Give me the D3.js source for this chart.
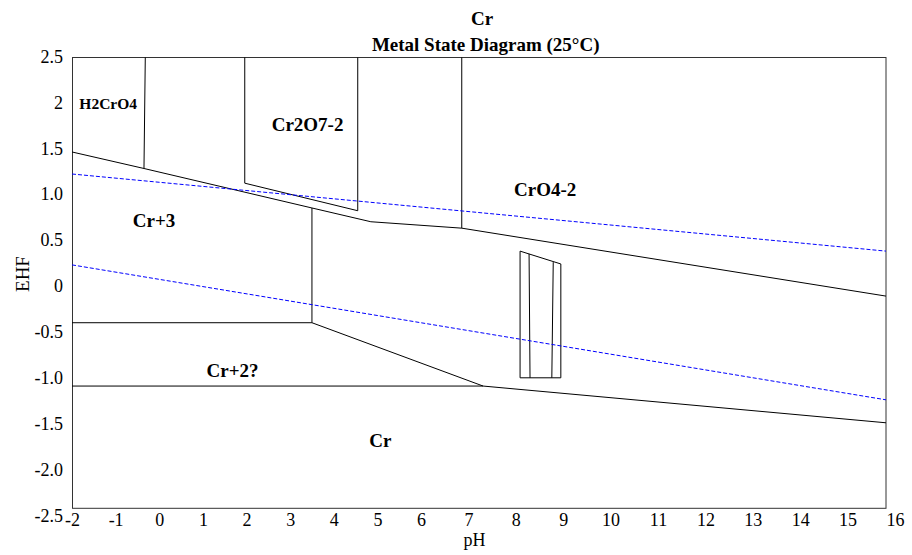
<!DOCTYPE html>
<html>
<head>
<meta charset="utf-8">
<script src="https://d3js.org/d3.v7.min.js"></script>
<style>
  body { margin: 0; background: #fff; }
  text { font-family: "Liberation Serif", "Times New Roman", serif; fill: #000; }
</style>
</head>
<body>
<div class="chart"></div>
<script>
// axis ticks
var xTicks = [-2, -1, 0, 1, 2, 3, 4, 5, 6, 7, 8, 9, 10, 11, 12, 13, 14, 15, 16];
var yTicks = [2.5, 2, 1.5, 1, 0.5, 0, -0.5, -1, -1.5, -2, -2.5];
var yTickLabels = ["2.5", "2", "1.5", "1.0", "0.5", "0", "-0.5", "-1.0", "-1.5", "-2.0", "-2.5"];

// boundaries, [pH, E]
var upperBoundary = [[-2, 1.46], [-0.35, 1.28], [3.5, 0.85], [4.85, 0.70], [6.86, 0.63], [15.81, -0.11]];
var h2cro4Line = [[-0.32, 2.49], [-0.35, 1.28]];
var cr2o7Box = [[1.96, 2.49], [1.96, 1.12], [4.55, 0.82], [4.55, 2.49]];
var cro4Line = [[6.86, 2.49], [6.86, 0.63]];
var crOH3Line = [[3.5, 0.85], [3.5, -0.40]];
var cr2Upper = [[-2, -0.40], [3.5, -0.40], [7.31, -1.09]];
var crLower = [[-2, -1.09], [7.31, -1.09], [15.81, -1.49]];
var smallBox = [[8.09, -1.00], [8.09, 0.38], [8.95, 0.24], [8.95, -1.00], [8.09, -1.00]];
var boxInner1 = [[8.28, 0.35], [8.30, -1.00]];
var boxInner2 = [[8.79, 0.26], [8.76, -1.00]];

// water stability lines
var waterUpper = [[-2, 1.22], [15.81, 0.38]];
var waterLower = [[-2, 0.23], [15.81, -1.24]];

// region labels
var regionNames = ["H2CrO4", "Cr2O7-2", "CrO4-2", "Cr+3", "Cr+2?", "Cr"];
var regionPH = [-1.17, 3.40, 8.62, -0.12, 1.68, 5.07];
var regionE = [1.99, 1.76, 1.05, 0.72, -0.92, -1.68];

var svgWidth = 912;
var svgHeight = 555;

var frame = { left: 72.5, top: 57.5, right: 886, bottom: 508.3 };

var svg = d3.select(".chart")
  .append("svg")
  .attr("width", svgWidth)
  .attr("height", svgHeight);

// scales (the original's pH labels are not evenly spaced)
var xScale = d3.scaleLinear()
  .domain([-2, 6, 16])
  .range([72, 421, 895]);

var yScale = d3.scaleLinear()
  .domain([-2.5, 2.5])
  .range([515.5, 56.5]);

// frame
svg.append("rect")
  .attr("x", frame.left)
  .attr("y", frame.top)
  .attr("width", frame.right - frame.left)
  .attr("height", frame.bottom - frame.top)
  .attr("fill", "none")
  .attr("stroke", "#333")
  .attr("stroke-width", 1);

// axes
var xAxis = d3.axisBottom(xScale)
  .tickValues(xTicks)
  .tickSize(0)
  .tickPadding(5)
  .tickFormat(d => String(d));

var yAxis = d3.axisLeft(yScale)
  .tickValues(yTicks)
  .tickSize(0)
  .tickPadding(9.5)
  .tickFormat((d, i) => yTickLabels[i]);

var xg = svg.append("g")
  .attr("transform", `translate(0, ${frame.bottom})`)
  .call(xAxis);

var yg = svg.append("g")
  .attr("transform", `translate(${frame.left}, 0)`)
  .call(yAxis);

[xg, yg].forEach(function(g) {
  g.select(".domain").remove();
  g.selectAll("text")
    .style("font-family", "'Liberation Serif', 'Times New Roman', serif")
    .style("font-size", "18px")
    .attr("fill", "#000");
});

var line = d3.line()
  .x(d => xScale(d[0]))
  .y(d => yScale(d[1]));

var boundaries = [upperBoundary, h2cro4Line, cr2o7Box, cro4Line, crOH3Line,
  cr2Upper, crLower, smallBox, boxInner1, boxInner2];

svg.append("g")
  .selectAll("path")
  .data(boundaries)
  .enter()
  .append("path")
  .attr("d", line)
  .attr("fill", "none")
  .attr("stroke", "#000")
  .attr("stroke-width", 1);

svg.append("g")
  .selectAll("path")
  .data([waterUpper, waterLower])
  .enter()
  .append("path")
  .attr("d", line)
  .attr("fill", "none")
  .attr("stroke", "#0000ff")
  .attr("stroke-width", 1)
  .attr("stroke-dasharray", "4,2");

// region labels
svg.append("g")
  .selectAll("text")
  .data(regionNames)
  .enter()
  .append("text")
  .attr("x", (d, i) => xScale(regionPH[i]))
  .attr("y", (d, i) => yScale(regionE[i]))
  .attr("dy", "0.35em")
  .attr("text-anchor", "middle")
  .style("font-weight", "bold")
  .style("font-size", (d, i) => i === 0 ? "15.5px" : "19px")
  .text(d => d);

// titles
svg.append("text")
  .attr("x", 482)
  .attr("y", 25)
  .attr("text-anchor", "middle")
  .style("font-weight", "bold")
  .style("font-size", "19px")
  .text("Cr");

svg.append("text")
  .attr("x", 485.7)
  .attr("y", 51)
  .attr("text-anchor", "middle")
  .style("font-weight", "bold")
  .style("font-size", "19px")
  .text("Metal State Diagram (25°C)");

// axis titles
svg.append("text")
  .attr("x", 474.5)
  .attr("y", 546)
  .attr("text-anchor", "middle")
  .style("font-size", "18px")
  .text("pH");

svg.append("text")
  .attr("transform", "translate(29, 274) rotate(-90)")
  .attr("text-anchor", "middle")
  .style("font-size", "19px")
  .text("EHF");
</script>
</body>
</html>
